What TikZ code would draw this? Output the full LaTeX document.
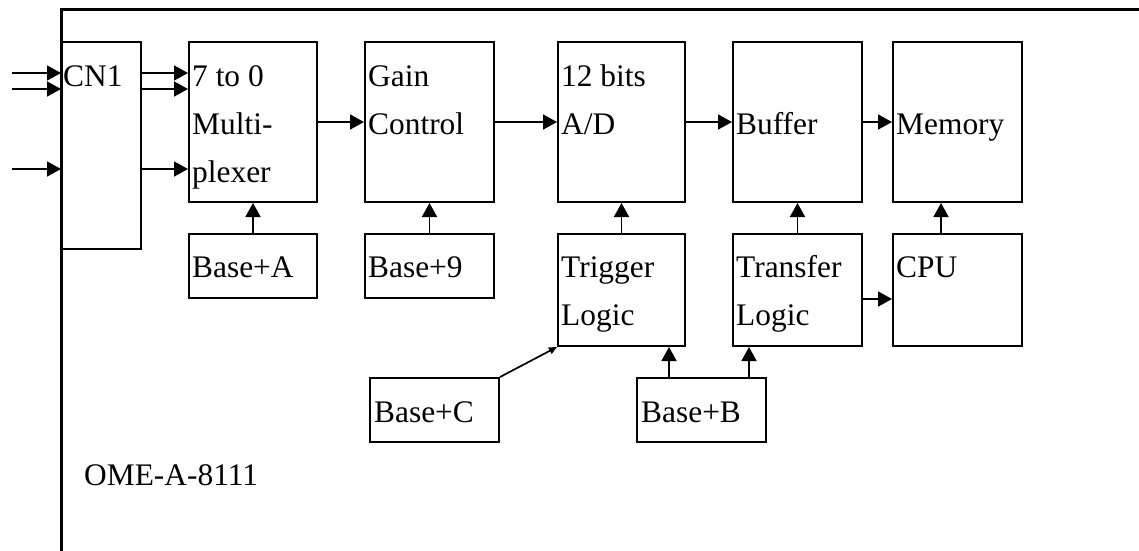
\documentclass[tikz,border=0pt]{standalone}
\usepackage{fontspec}
\setmainfont{Liberation Serif}
\usetikzlibrary{arrows.meta,calc}
\begin{document}
\begin{tikzpicture}[x=1pt,y=-1pt,
 box/.style={draw, line width=2pt, inner sep=0pt, anchor=north west},
 lbl/.style={anchor=base west, inner sep=0pt, font=\fontsize{31.4}{48}\selectfont},
 arr/.style={line width=1.7pt, -{Triangle[length=14pt,width=15pt]}},
 sarr/.style={line width=1.7pt, -{Triangle[length=8pt,width=7pt]}},
 frame/.style={line width=3pt}]
\useasboundingbox (0,0) rectangle (1139,550);
% outer frame
\coordinate (fb) at (61,552);
\coordinate (ft) at (1141,9);
\draw[frame] (fb) |- (ft);
% boxes
\node[box, minimum width=79pt,  minimum height=207pt] (cn1) at (61,41) {};
\node[box, minimum width=128pt, minimum height=160pt] (mux) at (188,41) {};
\node[box, minimum width=129pt, minimum height=160pt] (gain) at (364,41) {};
\node[box, minimum width=127pt, minimum height=160pt] (ad) at (557,41) {};
\node[box, minimum width=129pt, minimum height=160pt] (buffer) at (732,41) {};
\node[box, minimum width=129pt, minimum height=160pt] (memory) at (892,41) {};
\node[box, minimum width=128pt, minimum height=64pt] (basea) at (188,233) {};
\node[box, minimum width=129pt, minimum height=64pt] (base9) at (364,233) {};
\node[box, minimum width=127pt, minimum height=112pt] (trigger) at (557,233) {};
\node[box, minimum width=129pt, minimum height=112pt] (transfer) at (732,233) {};
\node[box, minimum width=129pt, minimum height=112pt] (cpu) at (892,233) {};
\node[box, minimum width=129pt, minimum height=64pt] (basec) at (369,377) {};
\node[box, minimum width=129pt, minimum height=64pt] (baseb) at (636,377) {};
% texts
\node[lbl] (tcn1) at ($(cn1.north west)+(2,45)$) {CN1};
\node[lbl] (tmux) at ($(mux.north west)+(4,45)$) {\parbox[t]{200pt}{7 to 0\\Multi-\\plexer}};
\node[lbl] (tgain) at ($(gain.north west)+(4,45)$) {\parbox[t]{200pt}{Gain\\Control}};
\node[lbl] (tad) at ($(ad.north west)+(4,45)$) {\parbox[t]{200pt}{12 bits\\A/D}};
\node[lbl] (tbuffer) at ($(buffer.north west)+(4,93)$) {Buffer};
\node[lbl] (tmemory) at ($(memory.north west)+(4,93)$) {Memory};
\node[lbl] (tbasea) at ($(basea.north west)+(4,44)$) {Base+A};
\node[lbl] (tbase9) at ($(base9.north west)+(4,44)$) {Base+9};
\node[lbl] (ttrigger) at ($(trigger.north west)+(4,44)$) {\parbox[t]{200pt}{Trigger\\Logic}};
\node[lbl] (ttransfer) at ($(transfer.north west)+(4,44)$) {\parbox[t]{200pt}{Transfer\\Logic}};
\node[lbl] (tcpu) at ($(cpu.north west)+(4,44)$) {CPU};
\node[lbl] (tbasec) at ($(basec.north west)+(5,45)$) {Base+C};
\node[lbl] (tbaseb) at ($(baseb.north west)+(5,45)$) {Base+B};
\node[lbl] (tome) at (84,485) {OME-A-8111};
% input arrows
\coordinate (in1) at (12,73);
\coordinate (in2) at (12,89);
\coordinate (in3) at (12,169);
\draw[arr] (in1) -- (in1 -| cn1.west);
\draw[arr] (in2) -- (in2 -| cn1.west);
\draw[arr] (in3) -- (in3 -| cn1.west);
\draw[arr] (cn1.east |- in1) -- (mux.west |- in1);
\draw[arr] (cn1.east |- in2) -- (mux.west |- in2);
\draw[arr] (cn1.east |- in3) -- (mux.west |- in3);
% main chain
\draw[arr] (mux.east) -- (gain.west);
\draw[arr] (gain.east) -- (ad.west);
\draw[arr] (ad.east) -- (buffer.west);
\draw[arr] (buffer.east) -- (memory.west);
% verticals
\draw[arr] (basea.north) -- (mux.south);
\draw[arr] (base9.north) -- (gain.south);
\draw[arr] (trigger.north) -- (ad.south);
\draw[arr] (transfer.north) -- (buffer.south);
\coordinate (cpuout) at ($(cpu.north west)+(49,0)$);
\draw[arr] (cpuout) -- (cpuout |- memory.south);
\coordinate (bb1) at ($(baseb.north west)+(33,0)$);
\coordinate (bb2) at ($(baseb.north west)+(113,0)$);
\draw[arr] (bb1) -- (bb1 |- trigger.south);
\draw[arr] (bb2) -- (bb2 |- transfer.south);
\coordinate (tc) at ($(transfer.south east)+(0,-48)$);
\draw[arr] (tc) -- (tc -| cpu.west);
\draw[sarr] (basec.north east) -- (trigger.south west);
\end{tikzpicture}
\end{document}
